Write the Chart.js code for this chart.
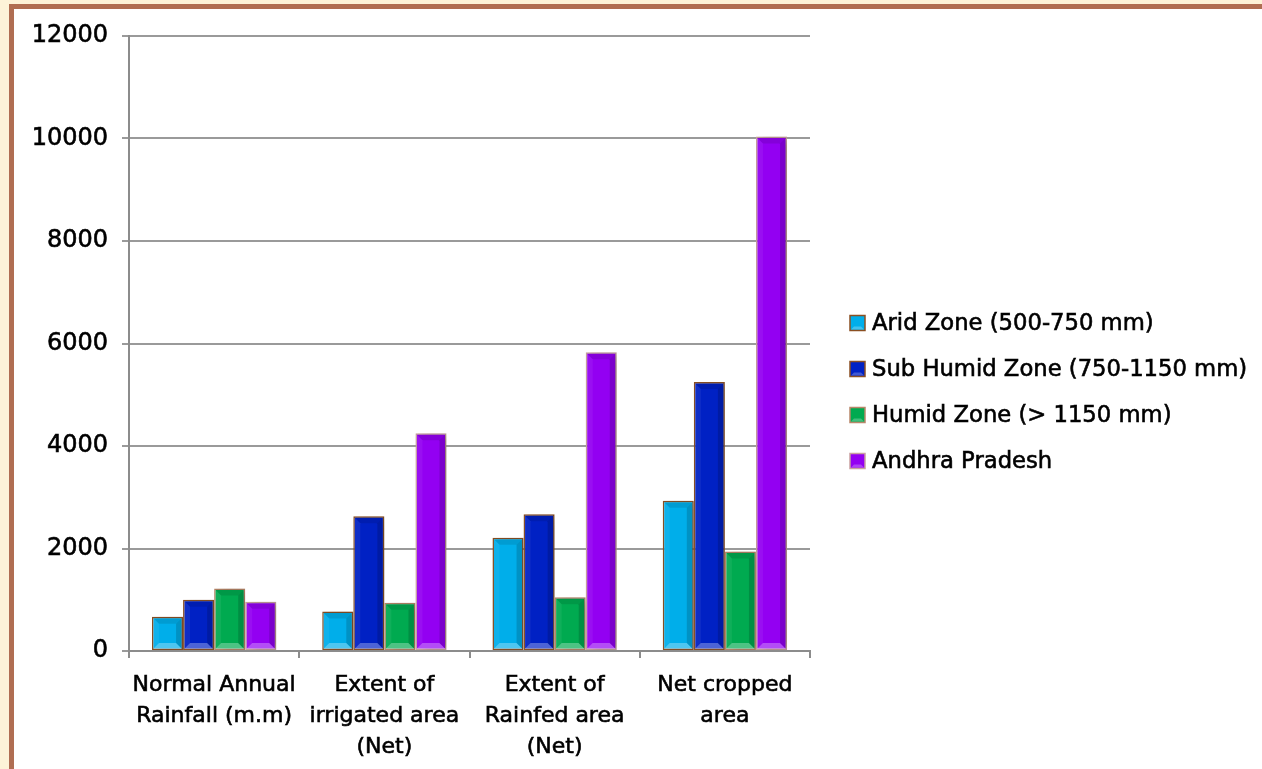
<!DOCTYPE html>
<html>
<head>
<meta charset="utf-8">
<script src="https://cdn.jsdelivr.net/npm/chart.js@4"></script>
<style>
  html, body { margin: 0; padding: 0; background: #fdf3d8; overflow: hidden; }
  #frame {
    position: absolute; left: 9px; top: 4px; width: 1300px; height: 800px;
    background: #ffffff; border-left: 5px solid #b06e52; border-top: 5px solid #b06e52;
  }
  #chart { position: absolute; left: 0; top: 0; }
</style>
</head>
<body>
<div id="frame"></div>
<canvas id="chart" width="1262" height="769"></canvas>
<script>
// Categories (x axis, multi-line labels)
const categories = [
  ["Normal Annual", "Rainfall (m.m)"],
  ["Extent of", "irrigated area", "(Net)"],
  ["Extent of", "Rainfed area", "(Net)"],
  ["Net cropped", "area"]
];

// Series
const seriesNames = [
  "Arid Zone (500-750 mm)",
  "Sub Humid Zone (750-1150 mm)",
  "Humid Zone (> 1150 mm)",
  "Andhra Pradesh"
];
const aridZone      = [670, 770, 2210, 2930];
const subHumidZone  = [1000, 2630, 2670, 5250];
const humidZone     = [1220, 940, 1050, 1940];
const andhraPradesh = [960, 4250, 5830, 10040];

// Y axis ticks
const yTicks = [0, 2000, 4000, 6000, 8000, 10000, 12000];

const fills   = ["#00aeea", "#0021c4", "#00aa50", "#9300f2"];
const borders = ["#8a4f22", "#8a4f22", "#b8876a", "#c9a0a0"];
const FONT = "'DejaVu Sans', sans-serif";

// Bevelled face on each bar
const bevelPlugin = {
  id: 'bevel',
  afterDatasetsDraw(chart) {
    const ctx = chart.ctx;
    chart.data.datasets.forEach((ds, i) => {
      const meta = chart.getDatasetMeta(i);
      meta.data.forEach(bar => {
        const half = bar.width / 2;
        const l = bar.x - half + 1, r = bar.x + half - 1;
        const t = Math.min(bar.y, bar.base) + 1, b = Math.max(bar.y, bar.base) - 1;
        const s = Math.min(6, (b - t) / 2, (r - l) / 2);
        ctx.save();
        const poly = (pts, col) => {
          ctx.beginPath();
          ctx.moveTo(pts[0][0], pts[0][1]);
          for (let k = 1; k < pts.length; k++) ctx.lineTo(pts[k][0], pts[k][1]);
          ctx.closePath();
          ctx.fillStyle = col;
          ctx.fill();
        };
        poly([[l, t], [r, t], [r - s, t + s], [l + s, t + s]], 'rgba(0,0,0,0.10)');
        poly([[l, b], [r, b], [r - s, b - s], [l + s, b - s]], 'rgba(255,255,255,0.30)');
        poly([[l, t], [l + s, t + s], [l + s, b - s], [l, b]], 'rgba(255,255,255,0.06)');
        poly([[r, t], [r - s, t + s], [r - s, b - s], [r, b]], 'rgba(0,0,0,0.16)');
        ctx.restore();
      });
    });
  }
};

// Soft shadow behind bars
const shadowPlugin = {
  id: 'barShadow',
  beforeDatasetsDraw(chart) {
    const ctx = chart.ctx;
    ctx.save();
    ctx.shadowColor = 'rgba(80,60,50,0.35)';
    ctx.shadowBlur = 9;
    ctx.shadowOffsetX = 5;
    ctx.shadowOffsetY = 1;
  },
  afterDatasetsDraw(chart) {
    chart.ctx.restore();
  }
};

// Legend on the right
const sideLegend = {
  id: 'sideLegend',
  afterDraw(chart) {
    const ctx = chart.ctx;
    const x0 = 850, y0 = 323, step = 46, box = 15;
    ctx.save();
    chart.data.datasets.forEach((ds, i) => {
      const cy = y0 + i * step;
      ctx.fillStyle = ds.backgroundColor;
      ctx.fillRect(x0, cy - box / 2, box, box);
      ctx.strokeStyle = ds.borderColor;
      ctx.lineWidth = 1.5;
      ctx.strokeRect(x0, cy - box / 2, box, box);
      ctx.fillStyle = 'rgba(255,255,255,0.25)';
      ctx.beginPath();
      ctx.moveTo(x0 + 1, cy + box / 2 - 1);
      ctx.lineTo(x0 + box - 1, cy + box / 2 - 1);
      ctx.lineTo(x0 + box - 4, cy + box / 2 - 4);
      ctx.lineTo(x0 + 4, cy + box / 2 - 4);
      ctx.fill();
      ctx.fillStyle = '#000';
      ctx.strokeStyle = '#000';
      ctx.lineWidth = 0.6;
      ctx.font = '22.7px ' + FONT;
      ctx.textBaseline = 'middle';
      ctx.textAlign = 'left';
      ctx.fillText(ds.label, 872, cy + 1);
      ctx.strokeText(ds.label, 872, cy + 1);
    });
    ctx.restore();
  }
};

const seriesData = [aridZone, subHumidZone, humidZone, andhraPradesh];

new Chart(document.getElementById('chart'), {
  type: 'bar',
  data: {
    labels: categories,
    datasets: seriesNames.map((name, i) => ({
      label: name,
      data: seriesData[i],
      backgroundColor: fills[i],
      borderColor: borders[i],
      borderWidth: 1.5,
      borderSkipped: false,
      categoryPercentage: 0.73,
      barPercentage: 1.0
    }))
  },
  options: {
    responsive: false,
    animation: false,
    devicePixelRatio: 1,
    layout: { padding: { left: 0, top: 36, right: 452, bottom: 0 } },
    plugins: { legend: { display: false }, tooltip: { enabled: false } },
    scales: {
      x: {
        grid: { drawOnChartArea: false, drawTicks: true, tickLength: 7, color: '#8c8c8c', lineWidth: 2, offset: true },
        border: { color: '#8c8c8c', width: 2 },
        ticks: {
          color: '#000', font: { family: FONT, size: 22, lineHeight: 1.4 },
          textStrokeColor: '#000', textStrokeWidth: 0.6,
          maxRotation: 0, autoSkip: false, padding: 12
        },
        afterFit(scale) { scale.height = 118; }
      },
      y: {
        min: 0, max: 12000,
        afterBuildTicks(scale) { scale.ticks = yTicks.map(v => ({ value: v })); },
        grid: { color: '#9a9a9a', lineWidth: 2, tickLength: 7 },
        border: { color: '#8c8c8c', width: 2 },
        ticks: {
          color: '#000', font: { family: FONT, size: 24 }, padding: 14,
          textStrokeColor: '#000', textStrokeWidth: 0.6,
          callback: v => String(v)
        },
        afterFit(scale) { scale.width = 129; }
      }
    }
  },
  plugins: [shadowPlugin, bevelPlugin, sideLegend]
});
</script>
</body>
</html>
